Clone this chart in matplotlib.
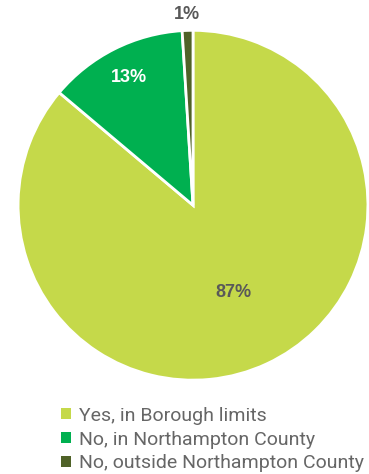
import matplotlib
matplotlib.use("Agg")
import matplotlib.pyplot as plt
import numpy as np
from matplotlib.patches import Patch

categories = ["Yes, in Borough limits", "No, in Northampton County", "No, outside Northampton County"]
values = [87, 13, 1]
pct_labels = ["87%", "13%", "1%"]
colors = ["#C5D94A", "#00B050", "#4F6228"]
label_colors = ["#595959", "white", "#595959"]
label_dist = [0.55, 0.82, 1.09]

fig = plt.figure(figsize=(3.69, 4.74), dpi=100)
ax = fig.add_axes([0.0488, 0.198, 0.9485, 0.738])
wedges, _ = ax.pie(values, colors=colors, startangle=90, counterclock=False,
                   wedgeprops=dict(edgecolor="white", linewidth=2))
for w, lab, c, d in zip(wedges, pct_labels, label_colors, label_dist):
    th = np.deg2rad((w.theta1 + w.theta2) / 2)
    ax.text(d * np.cos(th), d * np.sin(th), lab, ha="center", va="center",
            fontsize=13, fontweight="bold", color=c, fontfamily="Liberation Sans")
ax.set_xlim(-1, 1)
ax.set_ylim(-1, 1)
ax.set_aspect("equal")
ax.axis("off")

handles = [Patch(facecolor=c, edgecolor="none") for c in colors]
leg = fig.legend(handles, categories, loc="upper left", bbox_to_anchor=(0.165, 0.142),
                 frameon=False, handlelength=0.5, handleheight=0.5, handletextpad=0.45,
                 labelspacing=0.3, borderpad=0, borderaxespad=0,
                 prop=dict(family="Roboto", size=14))
for t in leg.get_texts():
    t.set_color("#666666")

fig.savefig("out.png", dpi=100)
